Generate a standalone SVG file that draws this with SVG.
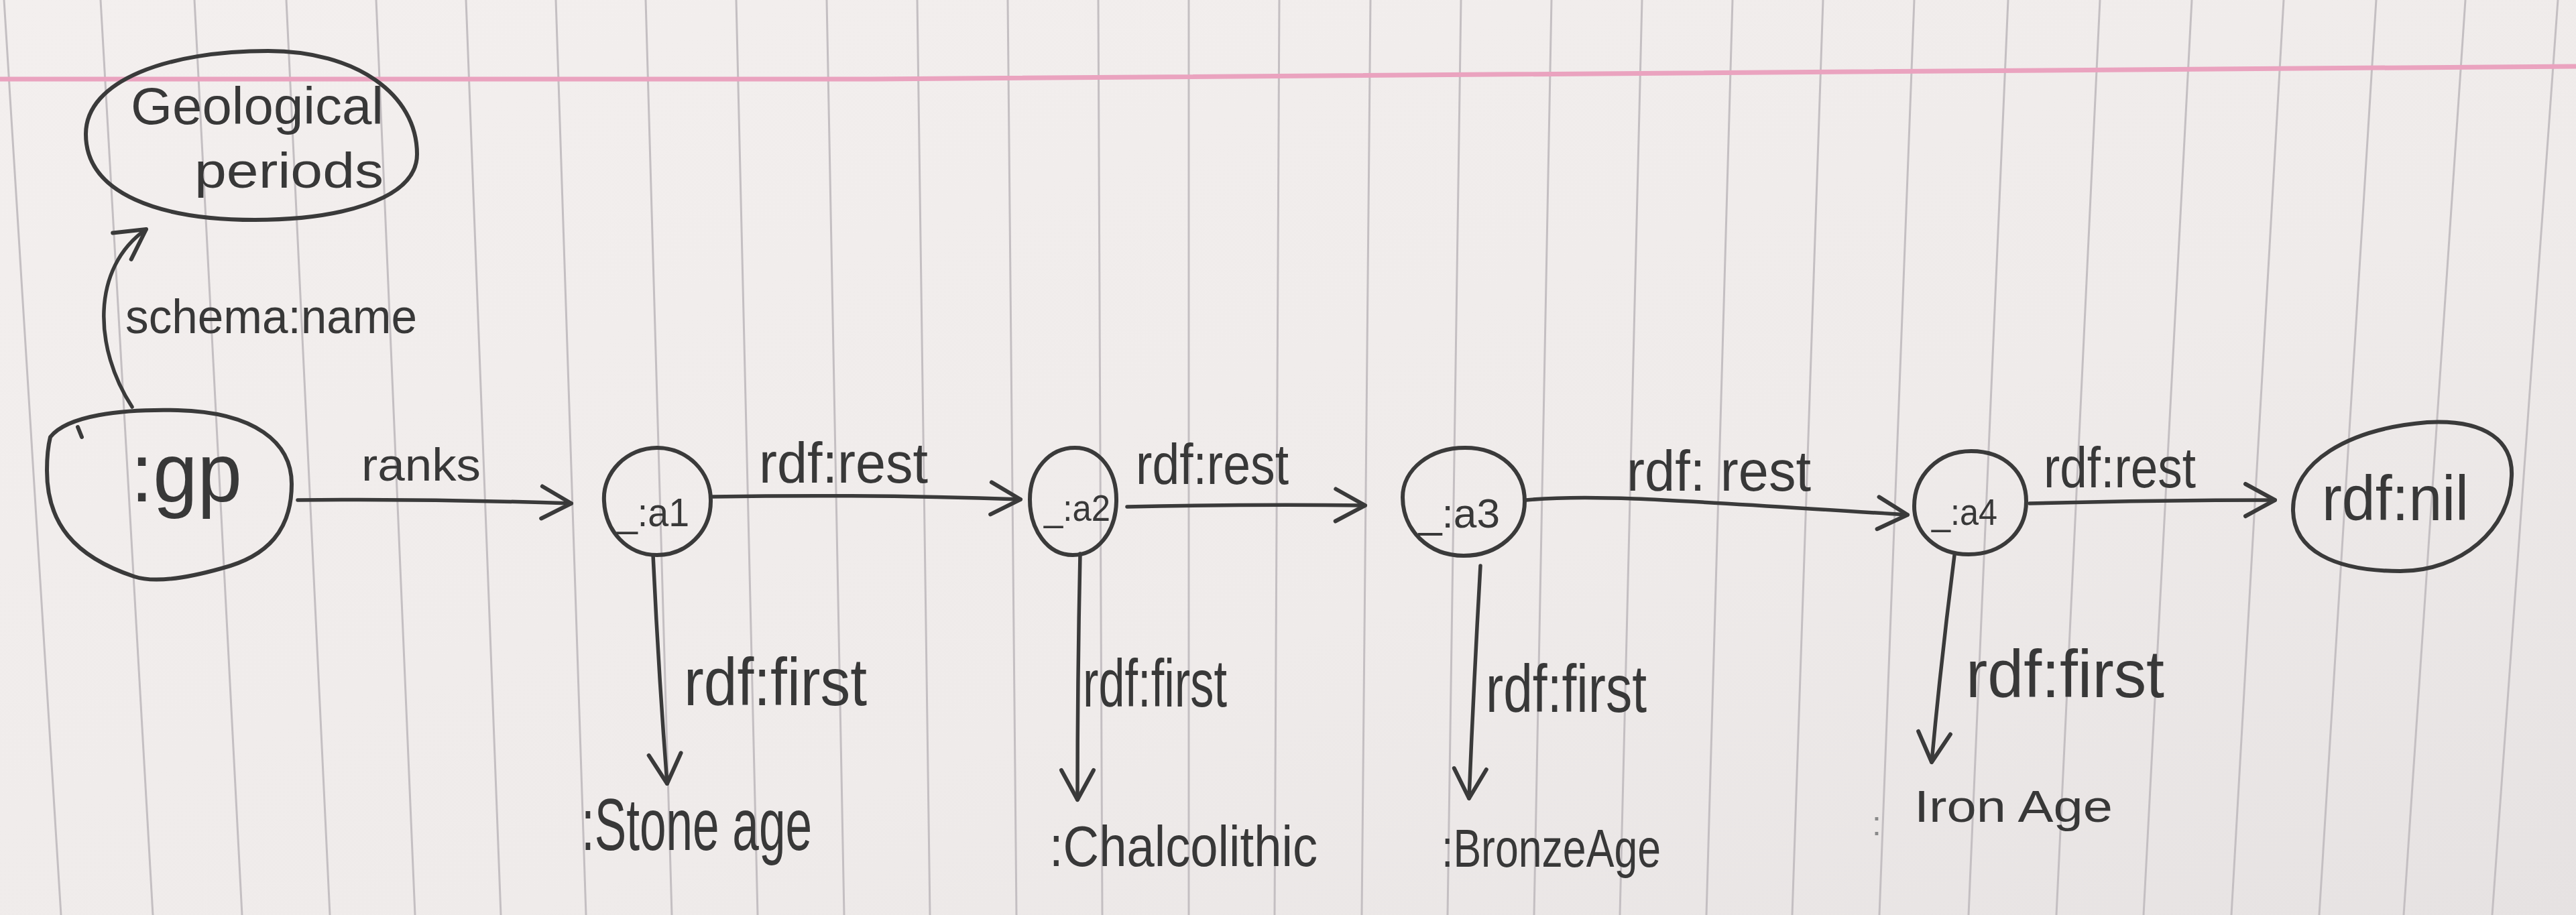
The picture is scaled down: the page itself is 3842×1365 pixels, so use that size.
<svg xmlns="http://www.w3.org/2000/svg" width="3842" height="1365" viewBox="0 0 3842 1365">
<defs>
<style>
.paper{fill:url(#paperGrad)}
.rule{stroke:#c4bfc2;stroke-width:3;fill:none}
.margin{stroke:#eaa3bf;stroke-width:7;fill:none}
.node{fill:none;stroke:#3a3a3a;stroke-width:6;stroke-linejoin:round;stroke-linecap:round}
.edge{fill:none;stroke:#3a3a3a;stroke-width:5.5;stroke-linecap:round;marker-end:url(#arrow)}
.t{font-family:"Liberation Sans","DejaVu Sans",sans-serif;fill:#383838}
.faint{font-family:"Liberation Sans","DejaVu Sans",sans-serif;fill:#8a8a8a}
</style>
<linearGradient id="paperGrad" x1="0" y1="0" x2="1" y2="1">
<stop offset="0" stop-color="#f3efee"/>
<stop offset="0.6" stop-color="#efebea"/>
<stop offset="1" stop-color="#e6e2e2"/>
</linearGradient>
<marker id="arrow" markerUnits="userSpaceOnUse" markerWidth="60" markerHeight="60" viewBox="0 0 60 60" refX="56" refY="30" orient="auto" overflow="visible">
<path d="M 12 6 L 56 30 L 12 54" fill="none" stroke="#3a3a3a" stroke-width="6" stroke-linecap="round" stroke-linejoin="round"/>
</marker>
</defs>

<g id="paper">
<rect class="paper" x="0" y="0" width="3842" height="1365"/>
<g id="rules">
<path class="rule" d="M 6 0 L 91 1365"/>
<path class="rule" d="M 150 0 L 228 1365"/>
<path class="rule" d="M 290 0 L 361 1365"/>
<path class="rule" d="M 427 0 L 492 1365"/>
<path class="rule" d="M 561 0 L 619 1365"/>
<path class="rule" d="M 695 0 L 747 1365"/>
<path class="rule" d="M 829 0 L 874 1365"/>
<path class="rule" d="M 963 0 L 1002 1365"/>
<path class="rule" d="M 1098 0 L 1130 1365"/>
<path class="rule" d="M 1233 0 L 1259 1365"/>
<path class="rule" d="M 1368 0 L 1387 1365"/>
<path class="rule" d="M 1503 0 L 1516 1365"/>
<path class="rule" d="M 1638 0 L 1644 1365"/>
<path class="rule" d="M 1773 0 L 1773 1365"/>
<path class="rule" d="M 1908 0 L 1901 1365"/>
<path class="rule" d="M 2044 0 L 2031 1365"/>
<path class="rule" d="M 2179 0 L 2159 1365"/>
<path class="rule" d="M 2314 0 L 2288 1365"/>
<path class="rule" d="M 2449 0 L 2416 1365"/>
<path class="rule" d="M 2584 0 L 2545 1365"/>
<path class="rule" d="M 2719 0 L 2673 1365"/>
<path class="rule" d="M 2855 0 L 2803 1365"/>
<path class="rule" d="M 2995 0 L 2936 1365"/>
<path class="rule" d="M 3132 0 L 3067 1365"/>
<path class="rule" d="M 3269 0 L 3197 1365"/>
<path class="rule" d="M 3406 0 L 3328 1365"/>
<path class="rule" d="M 3544 0 L 3459 1365"/>
<path class="rule" d="M 3677 0 L 3585 1365"/>
<path class="rule" d="M 3815 0 L 3717 1365"/>
</g>
<path class="margin" d="M 0 118 L 1300 118 L 3842 99"/>
</g>

<g id="connectors">
<g id="e-name">
<path class="edge" d="M 197 607 C 140 520, 135 400, 218 342"/>
<text class="t" x="187" y="497" font-size="72" textLength="435" lengthAdjust="spacingAndGlyphs">schema:name</text>
</g>
<g id="e-ranks">
<path class="edge" d="M 444 746 Q 650 744 852 751"/>
<text class="t" x="539" y="717" font-size="68" textLength="178" lengthAdjust="spacingAndGlyphs">ranks</text>
</g>
<g id="e-rest1">
<path class="edge" d="M 1063 741 Q 1300 737 1522 745"/>
<text class="t" x="1132" y="720" font-size="85" textLength="252" lengthAdjust="spacingAndGlyphs">rdf:rest</text>
</g>
<g id="e-rest2">
<path class="edge" d="M 1681 756 Q 1860 752 2036 754"/>
<text class="t" x="1694" y="722" font-size="85" textLength="228" lengthAdjust="spacingAndGlyphs">rdf:rest</text>
</g>
<g id="e-rest3">
<path class="edge" d="M 2276 746 C 2380 736, 2520 748, 2845 768"/>
<text class="t" x="2426" y="732" font-size="85" textLength="275" lengthAdjust="spacingAndGlyphs">rdf: rest</text>
</g>
<g id="e-rest4">
<path class="edge" d="M 3027 751 Q 3210 746 3393 746"/>
<text class="t" x="3048" y="727" font-size="85" textLength="227" lengthAdjust="spacingAndGlyphs">rdf:rest</text>
</g>
<g id="e-first1">
<path class="edge" d="M 974 828 Q 982 1000 995 1169"/>
<text class="t" x="1020" y="1052" font-size="100" textLength="273" lengthAdjust="spacingAndGlyphs">rdf:first</text>
</g>
<g id="e-first2">
<path class="edge" d="M 1611 826 Q 1607 1010 1607 1193"/>
<text class="t" x="1615" y="1054" font-size="100" textLength="215" lengthAdjust="spacingAndGlyphs">rdf:first</text>
</g>
<g id="e-first3">
<path class="edge" d="M 2208 844 Q 2198 1020 2191 1191"/>
<text class="t" x="2216" y="1062" font-size="100" textLength="240" lengthAdjust="spacingAndGlyphs">rdf:first</text>
</g>
<g id="e-first4">
<path class="edge" d="M 2915 828 Q 2895 985 2881 1137"/>
<text class="t" x="2932" y="1040" font-size="100" textLength="296" lengthAdjust="spacingAndGlyphs">rdf:first</text>
</g>
</g>

<g id="nodes">
<g id="n-name">
<path class="node" d="M 128 200 C 128 120, 250 76, 400 76 C 530 76, 622 140, 622 230 C 622 300, 500 328, 380 328 C 240 328, 128 290, 128 200 Z"/>
<text class="t" x="195" y="185" font-size="78" textLength="377" lengthAdjust="spacingAndGlyphs">Geological</text>
<text class="t" x="290" y="280" font-size="75" textLength="282" lengthAdjust="spacingAndGlyphs">periods</text>
</g>
<g id="n-gp">
<path class="node" d="M 116 637 L 122 652 M 75 652 C 100 620, 180 610, 265 612 C 380 615, 435 660, 435 722 C 435 790, 400 830, 330 848 C 280 862, 230 870, 200 860 C 110 830, 70 780, 70 702 C 70 678, 72 664, 75 652 Z"/>
<text class="t" x="195" y="748" font-size="125" textLength="166" lengthAdjust="spacingAndGlyphs">:gp</text>
</g>
<g id="n-a1">
<path class="node" d="M 901 748 C 898 704, 936 668, 980 668 C 1025 668, 1061 704, 1060 748 C 1060 793, 1024 828, 980 828 C 935 828, 903 792, 901 748 Z"/>
<text class="t" x="920" y="785" font-size="60" textLength="108" lengthAdjust="spacingAndGlyphs">_:a1</text>
</g>
<g id="n-a2">
<path class="node" d="M 1536 745 C 1536 700, 1566 668, 1603 668 C 1640 668, 1666 702, 1665 748 C 1664 795, 1636 828, 1600 828 C 1562 828, 1536 790, 1536 745 Z"/>
<text class="t" x="1557" y="777" font-size="55" textLength="99" lengthAdjust="spacingAndGlyphs">_:a2</text>
</g>
<g id="n-a3">
<path class="node" d="M 2092 742 C 2092 700, 2133 668, 2185 668 C 2238 668, 2274 702, 2274 748 C 2274 795, 2234 829, 2183 829 C 2130 829, 2092 790, 2092 742 Z"/>
<text class="t" x="2116" y="787" font-size="62" textLength="121" lengthAdjust="spacingAndGlyphs">_:a3</text>
</g>
<g id="n-a4">
<path class="node" d="M 2855 755 C 2855 710, 2890 673, 2940 673 C 2990 673, 3022 705, 3022 748 C 3022 795, 2985 827, 2936 827 C 2888 827, 2855 795, 2855 755 Z"/>
<text class="t" x="2881" y="783" font-size="55" textLength="98" lengthAdjust="spacingAndGlyphs">_:a4</text>
</g>
<g id="n-nil">
<path class="node" d="M 3420 760 C 3420 690, 3500 640, 3620 630 C 3710 625, 3748 660, 3746 710 C 3744 790, 3670 852, 3580 852 C 3480 852, 3420 820, 3420 760 Z"/>
<text class="t" x="3463" y="776" font-size="95" textLength="219" lengthAdjust="spacingAndGlyphs">rdf:nil</text>
</g>
<g id="n-stone">
<text class="t" x="867" y="1268" font-size="110" textLength="344" lengthAdjust="spacingAndGlyphs">:Stone age</text>
</g>
<g id="n-chalco">
<text class="t" x="1565" y="1292" font-size="85" textLength="400" lengthAdjust="spacingAndGlyphs">:Chalcolithic</text>
</g>
<g id="n-bronze">
<text class="t" x="2150" y="1293" font-size="80" textLength="327" lengthAdjust="spacingAndGlyphs">:BronzeAge</text>
</g>
<g id="n-iron">
<text class="faint" x="2792" y="1246" font-size="50">:</text>
<text class="t" x="2855" y="1226" font-size="66" textLength="296" lengthAdjust="spacingAndGlyphs">Iron Age</text>
</g>
</g>
</svg>
